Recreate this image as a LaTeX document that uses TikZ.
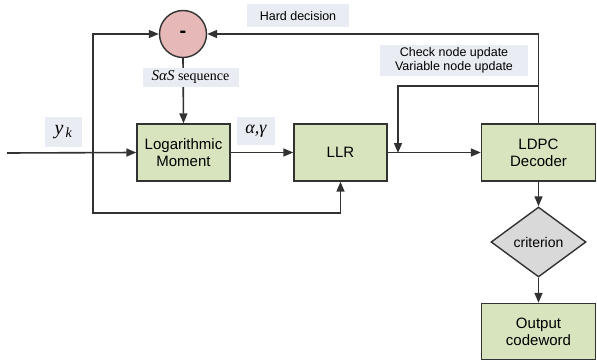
\documentclass[tikz,border=0pt]{standalone}
\usepackage{fontspec}
\setmainfont{Liberation Sans}
\newfontfamily\tms{Liberation Serif}
\usetikzlibrary{arrows.meta,shapes.geometric}
\definecolor{boxgreen}{RGB}{215,228,189}
\definecolor{linegray}{RGB}{50,50,50}
\definecolor{circpink}{RGB}{230,185,184}
\definecolor{critgray}{RGB}{217,217,217}
\definecolor{lblbg}{RGB}{233,236,242}
\tikzset{
  blk/.style={draw=linegray, line width=1.4pt, fill=boxgreen, rectangle, align=center,
    font=\fontsize{15}{17}\selectfont, inner sep=0pt},
  conn/.style={draw=linegray, line width=1.6pt},
  arr/.style={conn, -{Triangle[length=10pt,width=8pt]}},
  lbl/.style={fill=lblbg, inner sep=0pt, align=center},
}
\begin{document}
\begin{tikzpicture}[x=1pt,y=-1pt]
\useasboundingbox (0,0) rectangle (597,361);
% blocks
\node[circle, draw=linegray, line width=1.4pt, fill=circpink, minimum size=47pt, inner sep=0pt,
  font=\fontsize{20}{20}\selectfont\bfseries] (circ) at (183,34) {-};
\node[blk, minimum width=93pt, minimum height=57pt] (log) at (183.5,152.5) {Logarithmic\\Moment};
\node[blk, minimum width=93pt, minimum height=57pt] (llr) at (340.5,152.5) {LLR};
\node[blk, minimum width=114pt, minimum height=57pt] (ldpc) at (538.5,152.5) {LDPC\\Decoder};
\node[diamond, draw=linegray, line width=1.4pt, fill=critgray, minimum width=95pt, minimum height=70pt,
  aspect=1.36, inner sep=0pt, font=\fontsize{14}{16}\selectfont] (crit) at (538.5,242) {criterion};
\node[blk, minimum width=114pt, minimum height=56pt] (out) at (538.5,331.5) {Output\\codeword};
% coordinates
\coordinate (in) at (7,153);
\coordinate (split) at (93,153);
\coordinate (tl) at (93,34);
\coordinate (bl) at (93,213);
\coordinate (br) at (340.5,213);
\coordinate (tr) at (538.5,34);
\coordinate (fbr) at (538.5,86);
\coordinate (fbl) at (398,86);
\coordinate (fbd) at (398,153);
% connectors
\draw[arr] (in) -- (log.west);
\draw[arr] (split) -- (tl) -- (circ.west);
\draw[arr] (split) -- (bl) -- (br) -- (llr.south);
\draw[arr] (circ.south) -- (log.north);
\draw[arr] (log.east) -- (llr.west);
\draw[arr] (llr.east) -- (ldpc.west);
\draw[arr] (ldpc.north) -- (tr) -- (circ.east);
\draw[arr] (fbr) -- (fbl) -- (fbd);
\draw[arr] (ldpc.south) -- (crit.north);
\draw[arr] (crit.south) -- (out.north);
% labels
\node[lbl, minimum width=37pt, minimum height=30pt, font=\fontsize{20}{20}\selectfont] (yk) at (63.5,132) {\tms\itshape y\textsubscript{\,k}};
\node[lbl, minimum width=38pt, minimum height=28pt, font=\fontsize{18}{18}\selectfont] (ag) at (256,131) {\tms\itshape α,γ};
\node[lbl, minimum width=96pt, minimum height=19pt, font=\tms\fontsize{14}{14}\selectfont] (sas) at (190.5,77.5) {{\fontsize{15}{15}\selectfont\itshape SαS} sequence};
\node[lbl, minimum width=102pt, minimum height=23pt, font=\fontsize{12.5}{14}\selectfont] (hd) at (298,16) {Hard decision};
\node[lbl, minimum width=148pt, minimum height=31pt, font=\fontsize{12.5}{14}\selectfont] (cn) at (454,60.5) {Check node update\\Variable node update};
\end{tikzpicture}
\end{document}
